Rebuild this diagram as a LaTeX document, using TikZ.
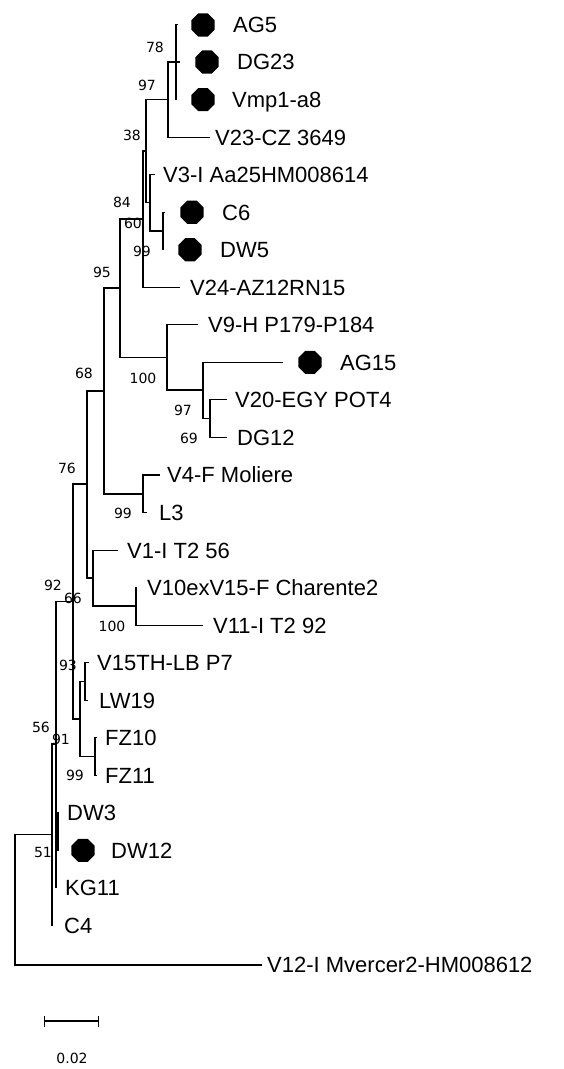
\documentclass[tikz,border=0pt]{standalone}
\usepackage{fontspec}
\setmainfont{Liberation Sans}
\newfontfamily\bsfamily{DejaVu Sans}
\usetikzlibrary{shapes.geometric,arrows.meta}
\tikzset{
  branch/.style={line width=1.1pt, black},
  leaflabel/.style={anchor=west, inner sep=0pt, font=\fontsize{22}{26}\selectfont, text height=15.8pt, text depth=0pt},
  bslabel/.style={anchor=center, inner sep=0pt, font=\bsfamily\fontsize{14}{16}\selectfont, text height=10.2pt, text depth=0pt},
  marker/.style={regular polygon, regular polygon sides=8, fill=black, draw=none, minimum size=25pt, inner sep=0pt},
}
\begin{document}
\begin{tikzpicture}[x=1pt,y=-1pt]
\useasboundingbox (0,0) rectangle (563,1069);
% internal nodes
\coordinate (nA) at (176,62);
\coordinate (nB) at (168,99.5);
\coordinate (n38) at (146,151);
\coordinate (n60) at (150,202.5);
\coordinate (n99a) at (163,231);
\coordinate (n84) at (143,219);
\coordinate (n100a) at (167,357.5);
\coordinate (n97) at (203,390);
\coordinate (n69) at (210,418.5);
\coordinate (n95) at (120,288);
\coordinate (n99b) at (143,494);
\coordinate (n68) at (104,391);
\coordinate (n100b) at (136,606);
\coordinate (nV1) at (93,578);
\coordinate (n76) at (87,484);
\coordinate (n93) at (85,681.5);
\coordinate (n99c) at (95,756.5);
\coordinate (nX) at (80,719);
\coordinate (nY) at (73,601.5);
\coordinate (nDW) at (58,831.5);
\coordinate (nZ) at (56,744);
\coordinate (nR) at (52,834.5);
\coordinate (root) at (15,900);
% leaf tips
\coordinate (tAG5) at (178,24.5);
\coordinate (tDG23) at (180,62);
\coordinate (tVmp1) at (177,99.6);
\coordinate (tV23) at (210,137.1);
\coordinate (tV3) at (155,174.7);
\coordinate (tC6) at (165,212.2);
\coordinate (tDW5) at (164,249.7);
\coordinate (tV24) at (180,287.3);
\coordinate (tV9) at (198,324.8);
\coordinate (tAG15) at (283,362.4);
\coordinate (tV20) at (227,399.9);
\coordinate (tDG12) at (227,437.4);
\coordinate (tV4) at (160,475);
\coordinate (tL3) at (147,512.5);
\coordinate (tV1) at (118,550.1);
\coordinate (tV10) at (137,587.6);
\coordinate (tV11) at (203,625.1);
\coordinate (tV15) at (89,662.7);
\coordinate (tLW19) at (88,700.2);
\coordinate (tFZ10) at (97,737.8);
\coordinate (tFZ11) at (97,775.3);
\coordinate (tDW3) at (59,812.8);
\coordinate (tDW12) at (59,850.4);
\coordinate (tKG11) at (57,887.9);
\coordinate (tC4) at (53,925.5);
\coordinate (tV12) at (262,965);
% branches
\draw[branch] (nA) |- (tAG5);
\draw[branch] (nA) |- (tDG23);
\draw[branch] (nA) |- (tVmp1);
\draw[branch] (nB) |- (nA);
\draw[branch] (nB) |- (tV23);
\draw[branch] (n38) |- (nB);
\draw[branch] (n38) |- (n60);
\draw[branch] (n60) |- (tV3);
\draw[branch] (n60) |- (n99a);
\draw[branch] (n99a) |- (tC6);
\draw[branch] (n99a) |- (tDW5);
\draw[branch] (n84) |- (n38);
\draw[branch] (n84) |- (tV24);
\draw[branch] (n95) |- (n84);
\draw[branch] (n95) |- (n100a);
\draw[branch] (n100a) |- (tV9);
\draw[branch] (n100a) |- (n97);
\draw[branch] (n97) |- (tAG15);
\draw[branch] (n97) |- (n69);
\draw[branch] (n69) |- (tV20);
\draw[branch] (n69) |- (tDG12);
\draw[branch] (n68) |- (n95);
\draw[branch] (n68) |- (n99b);
\draw[branch] (n99b) |- (tV4);
\draw[branch] (n99b) |- (tL3);
\draw[branch] (n76) |- (n68);
\draw[branch] (n76) |- (nV1);
\draw[branch] (nV1) |- (tV1);
\draw[branch] (nV1) |- (n100b);
\draw[branch] (n100b) |- (tV10);
\draw[branch] (n100b) |- (tV11);
\draw[branch] (nY) |- (n76);
\draw[branch] (nY) |- (nX);
\draw[branch] (nX) |- (n93);
\draw[branch] (nX) |- (n99c);
\draw[branch] (n93) |- (tV15);
\draw[branch] (n93) |- (tLW19);
\draw[branch] (n99c) |- (tFZ10);
\draw[branch] (n99c) |- (tFZ11);
\draw[branch] (nZ) |- (nY);
\draw[branch] (nZ) |- (nDW);
\draw[branch] (nZ) |- (tKG11);
\draw[branch] (nDW) |- (tDW3);
\draw[branch] (nDW) |- (tDW12);
\draw[branch] (nR) |- (nZ);
\draw[branch] (nR) |- (tC4);
\draw[branch] (root) |- (nR);
\draw[branch] (root) |- (tV12);
% markers
\node[marker] (dAG5) at (203,25) {};
\node[marker] (dDG23) at (207,62) {};
\node[marker] (dVmp1) at (203,99.6) {};
\node[marker] (dC6) at (192,212.2) {};
\node[marker] (dDW5) at (190,249.7) {};
\node[marker] (dAG15) at (310,362.4) {};
\node[marker] (dDW12) at (83,850.4) {};
% leaf labels
\node[leaflabel] (lAG5) at (233,24.5) {AG5};
\node[leaflabel] (lDG23) at (237,62) {DG23};
\node[leaflabel] (lVmp1) at (232,99.6) {Vmp1-a8};
\node[leaflabel] (lV23) at (215,137.1) {V23-CZ 3649};
\node[leaflabel] (lV3) at (163,174.7) {V3-I Aa25HM008614};
\node[leaflabel] (lC6) at (222,212.2) {C6};
\node[leaflabel] (lDW5) at (220,249.7) {DW5};
\node[leaflabel] (lV24) at (190,287.3) {V24-AZ12RN15};
\node[leaflabel] (lV9) at (208,324.8) {V9-H P179-P184};
\node[leaflabel] (lAG15) at (340,362.4) {AG15};
\node[leaflabel] (lV20) at (235,399.9) {V20-EGY POT4};
\node[leaflabel] (lDG12) at (237,437.4) {DG12};
\node[leaflabel] (lV4) at (167,475) {V4-F Moliere};
\node[leaflabel] (lL3) at (159,512.5) {L3};
\node[leaflabel] (lV1) at (127,550.1) {V1-I T2 56};
\node[leaflabel] (lV10) at (147,587.6) {V10exV15-F Charente2};
\node[leaflabel] (lV11) at (213,625.1) {V11-I T2 92};
\node[leaflabel] (lV15) at (97,662.7) {V15TH-LB P7};
\node[leaflabel] (lLW19) at (99,700.2) {LW19};
\node[leaflabel] (lFZ10) at (105,737.8) {FZ10};
\node[leaflabel] (lFZ11) at (105,775.3) {FZ11};
\node[leaflabel] (lDW3) at (67,812.8) {DW3};
\node[leaflabel] (lDW12) at (111,850.4) {DW12};
\node[leaflabel] (lKG11) at (65,887.9) {KG11};
\node[leaflabel] (lC4) at (64,925.5) {C4};
\node[leaflabel] (lV12) at (267,965) {V12-I Mvercer2-HM008612};
% bootstrap values
\node[bslabel] (b78) at (155,47) {78};
\node[bslabel] (b97a) at (147,85) {97};
\node[bslabel] (b38) at (132,135) {38};
\node[bslabel] (b84) at (122,202) {84};
\node[bslabel] (b60) at (133,223) {60};
\node[bslabel] (b99a) at (142,251) {99};
\node[bslabel] (b95) at (102,272) {95};
\node[bslabel] (b100a) at (143,378) {100};
\node[bslabel] (b97b) at (183,410) {97};
\node[bslabel] (b69) at (189,438) {69};
\node[bslabel] (b68) at (84,373) {68};
\node[bslabel] (b76) at (67,468) {76};
\node[bslabel] (b99b) at (123,513) {99};
\node[bslabel] (b92) at (53,585) {92};
\node[bslabel] (b66) at (73,598) {66};
\node[bslabel] (b100b) at (112,626) {100};
\node[bslabel] (b93) at (68,665) {93};
\node[bslabel] (b56) at (41,727) {56};
\node[bslabel] (b91) at (61,739) {91};
\node[bslabel] (b99c) at (75,775) {99};
\node[bslabel] (b51) at (43,852) {51};
% scale bar
\coordinate (sb1) at (44,1021);
\coordinate (sb2) at (99,1021);
\draw[branch, {Bar[width=11pt]}-{Bar[width=11pt]}] (sb1) -- (sb2);
\node[bslabel] (sblabel) at (72,1058) {0.02};
\end{tikzpicture}
\end{document}
